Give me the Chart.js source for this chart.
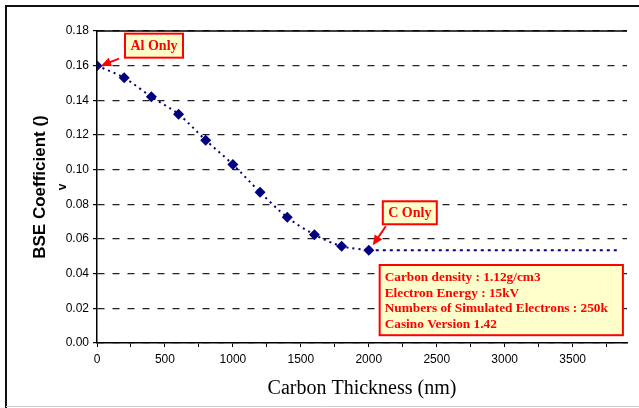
<!DOCTYPE html>
<html>
<head>
<meta charset="utf-8">
<script src="https://cdn.jsdelivr.net/npm/chart.js@4"></script>
<style>
  html, body { margin: 0; padding: 0; background: #fff; }
  #wrap { width: 639px; height: 408px; }
</style>
</head>
<body>
<div id="wrap"><canvas id="bseChart" width="639" height="408"></canvas></div>
<script>
// carbon thickness (nm) vs BSE coefficient
const thickness = [0, 200, 400, 600, 800, 1000, 1200, 1400, 1600, 1800, 2000];
const bseCoeff = [0.160, 0.153, 0.142, 0.132, 0.117, 0.103, 0.087, 0.0725, 0.0625, 0.0558, 0.0535];
// flat C-only level continued to the right
const flatX = [2000, 3850];
const flatY = [0.0535, 0.0535];
const infoLines = [
    "Carbon density : 1.12g/cm3",
    "Electron Energy : 15kV",
    "Numbers of Simulated Electrons : 250k",
    "Casino Version 1.42"
];

const red = "#ff0000";
const navy = "#000080";

function arrow(ctx, x1, y1, x2, y2) {
    const ang = Math.atan2(y2 - y1, x2 - x1);
    ctx.strokeStyle = red;
    ctx.fillStyle = red;
    ctx.lineWidth = 2;
    ctx.beginPath();
    ctx.moveTo(x1, y1);
    ctx.lineTo(x2 - 7 * Math.cos(ang), y2 - 7 * Math.sin(ang));
    ctx.stroke();
    ctx.beginPath();
    ctx.moveTo(x2, y2);
    ctx.lineTo(x2 - 10 * Math.cos(ang) + 4.5 * Math.sin(ang), y2 - 10 * Math.sin(ang) - 4.5 * Math.cos(ang));
    ctx.lineTo(x2 - 10 * Math.cos(ang) - 4.5 * Math.sin(ang), y2 - 10 * Math.sin(ang) + 4.5 * Math.cos(ang));
    ctx.closePath();
    ctx.fill();
}

function labelBox(ctx, x, y, w, h, text) {
    ctx.fillStyle = "#ffffcc";
    ctx.fillRect(x, y, w, h);
    ctx.strokeStyle = red;
    ctx.lineWidth = 2;
    ctx.strokeRect(x, y, w, h);
    ctx.fillStyle = red;
    ctx.font = "bold 14px 'Liberation Serif'";
    ctx.textAlign = "center";
    ctx.textBaseline = "middle";
    ctx.fillText(text, x + w / 2, y + h / 2 + 1);
}

const extras = {
    id: "extras",
    afterDraw(chart) {
        const ctx = chart.ctx;
        const xs = chart.scales.x, ys = chart.scales.y;
        const area = chart.chartArea;
        ctx.save();

        // solid top line of plot area
        ctx.strokeStyle = "#000";
        ctx.lineWidth = 1.5;
        ctx.beginPath();
        ctx.moveTo(area.left, area.top);
        ctx.lineTo(area.right, area.top);
        ctx.stroke();

        // outer frame
        ctx.strokeStyle = "#111";
        ctx.lineWidth = 2;
        ctx.beginPath();
        ctx.moveTo(6, 408);
        ctx.lineTo(6, 6);
        ctx.lineTo(639, 6);
        ctx.stroke();
        ctx.strokeStyle = "#ccc";
        ctx.lineWidth = 1;
        ctx.beginPath();
        ctx.moveTo(6, 406.5);
        ctx.lineTo(639, 406.5);
        ctx.stroke();

        // Al Only
        const p0x = xs.getPixelForValue(thickness[0]);
        const p0y = ys.getPixelForValue(bseCoeff[0]);
        labelBox(ctx, p0x + 28, p0y - 32, 58, 24, "Al Only");
        arrow(ctx, p0x + 22, p0y - 7, p0x + 4, p0y);

        // C Only
        const n = thickness.length - 1;
        const pcx = xs.getPixelForValue(thickness[n]);
        const pcy = ys.getPixelForValue(bseCoeff[n]);
        labelBox(ctx, pcx + 14, pcy - 49, 54, 23, "C Only");
        arrow(ctx, pcx + 17, pcy - 24, pcx + 4, pcy - 5);

        // info box
        const bx = xs.getPixelForValue(2080), by = ys.getPixelForValue(0.045);
        const bx2 = xs.getPixelForValue(3870), by2 = ys.getPixelForValue(0.0045);
        ctx.fillStyle = "#ffffcc";
        ctx.fillRect(bx, by, bx2 - bx, by2 - by);
        ctx.strokeStyle = red;
        ctx.lineWidth = 2;
        ctx.strokeRect(bx, by, bx2 - bx, by2 - by);
        ctx.fillStyle = red;
        ctx.font = "bold 13.3px 'Liberation Serif'";
        ctx.textAlign = "left";
        ctx.textBaseline = "middle";
        infoLines.forEach((t, i) => ctx.fillText(t, bx + 5, by + 12.5 + i * 15.6));

        // stray glyph under the y title
        ctx.translate(63, 187);
        ctx.rotate(-Math.PI / 2);
        ctx.fillStyle = "#000";
        ctx.font = "bold 12px 'Liberation Sans'";
        ctx.textAlign = "center";
        ctx.fillText("v", 0, 0);
        ctx.restore();
    }
};

new Chart(document.getElementById("bseChart").getContext("2d"), {
    type: "line",
    data: {
        datasets: [
            {
                data: thickness.map((x, i) => ({ x: x, y: bseCoeff[i] })),
                borderColor: navy,
                backgroundColor: navy,
                borderWidth: 2,
                borderDash: [2, 4],
                pointStyle: "rectRot",
                pointRadius: 5.5,
                pointBorderWidth: 0,
                tension: 0.3,
                fill: false
            },
            {
                data: flatX.map((x, i) => ({ x: x, y: flatY[i] })),
                borderColor: navy,
                borderWidth: 2,
                borderDash: [3, 4],
                pointRadius: 0,
                fill: false
            }
        ]
    },
    options: {
        responsive: false,
        animation: false,
        layout: { padding: { left: 0, top: 31, right: 12, bottom: 0 } },
        plugins: { legend: { display: false }, tooltip: { enabled: false } },
        scales: {
            x: {
                type: "linear",
                min: 0,
                max: 3900,
                afterFit: (s) => { s.height = 65; },
                ticks: {
                    stepSize: 250,
                    includeBounds: false,
                    autoSkip: false,
                    maxRotation: 0,
                    padding: 5,
                    color: "#000",
                    font: { family: "'Liberation Sans'", size: 12 },
                    callback: (v) => (v % 500 === 0 ? String(v) : "")
                },
                grid: { drawOnChartArea: false, drawTicks: true, tickLength: 4, tickColor: "#000" },
                border: { color: "#000", width: 1.5 },
                title: {
                    display: true,
                    text: "Carbon Thickness (nm)",
                    color: "#000",
                    font: { family: "'Liberation Serif'", size: 20 },
                    padding: { top: 0, bottom: 7 }
                }
            },
            y: {
                min: 0,
                max: 0.18,
                afterFit: (s) => { s.width = 97; },
                ticks: {
                    stepSize: 0.02,
                    padding: 4,
                    color: "#000",
                    font: { family: "'Liberation Sans'", size: 12 },
                    callback: (v) => v.toFixed(2)
                },
                grid: { color: "#222", lineWidth: 1.2, tickLength: 4, tickColor: "#000" },
                border: { color: "#000", width: 1.5, dash: [7, 8] },
                title: {
                    display: true,
                    text: "BSE Coefficient ()",
                    color: "#000",
                    font: { family: "'Liberation Sans'", size: 17, weight: "bold" },
                    padding: { top: 30, bottom: 0 }
                }
            }
        }
    },
    plugins: [extras]
});
</script>
</body>
</html>
